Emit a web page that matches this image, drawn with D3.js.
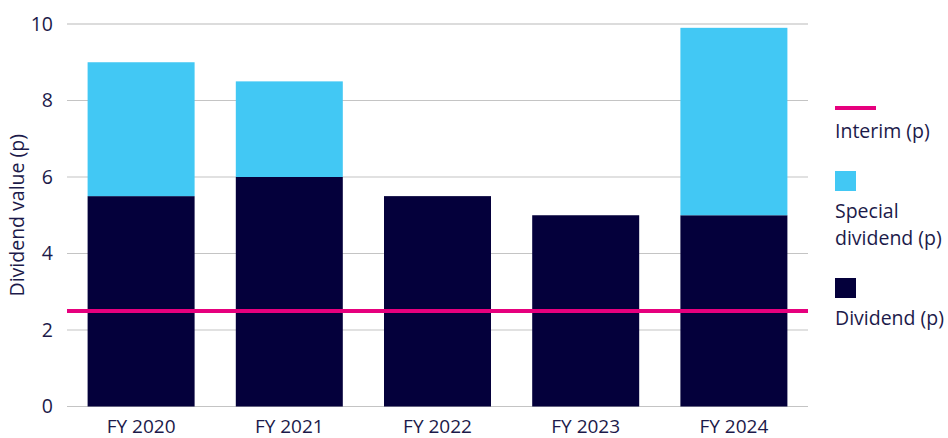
<!DOCTYPE html>
<html>
<head>
<meta charset="utf-8">
<script src="https://cdn.jsdelivr.net/npm/d3@7"></script>
<style>
  body { margin: 0; background: #fff; }
  text { font-family: "Open Sans", Lato, sans-serif; fill: #1c1a4a; }
</style>
</head>
<body>
<div id="chart"></div>
<script>
// Data
const years = ['FY 2020', 'FY 2021', 'FY 2022', 'FY 2023', 'FY 2024'];
const dividend = [5.5, 6.0, 5.5, 5.0, 5.0];
const special = [3.5, 2.5, 0, 0, 4.9];
const interim = 2.5;
const yTicks = [0, 2, 4, 6, 8, 10];

const colors = { dividend: '#04003b', special: '#42c8f4', interim: '#e6007e' };
const fontSize = 19.5;

// Plot area
const margin = { top: 24, right: 140, bottom: 31.5, left: 67 };
const W = 948, H = 438;
const width = W - margin.left - margin.right;
const height = H - margin.top - margin.bottom;

const svg = d3.select('#chart')
    .append('svg')
    .attr('width', W)
    .attr('height', H);

const g = svg.append('g')
    .attr('transform', `translate(${margin.left}, ${margin.top})`);

// Scales
const x = d3.scaleBand()
    .domain(years)
    .range([0, width])
    .paddingInner(0.278)
    .paddingOuter(0.139);
const y = d3.scaleLinear()
    .domain([0, 10])
    .range([height, 0]);

// Gridlines
g.selectAll('.grid')
    .data(yTicks)
    .enter().append('line')
    .attr('x1', 0)
    .attr('x2', width)
    .attr('y1', d => y(d))
    .attr('y2', d => y(d))
    .attr('stroke', d => d === 10 ? '#dcdcdc' : '#c4c4c4')
    .attr('stroke-width', d => d === 10 ? 2 : 1.2);

// Y-axis labels
g.selectAll('.ylab')
    .data(yTicks)
    .enter().append('text')
    .attr('x', -14)
    .attr('y', d => y(d))
    .attr('dy', '0.35em')
    .attr('text-anchor', 'end')
    .attr('font-size', fontSize)
    .text(d => d);

// Stacked bars
const stacked = years.map((yr, i) => ({ yr, div: dividend[i], sp: special[i] }));
g.selectAll('.bar-div')
    .data(stacked)
    .enter().append('rect')
    .attr('x', d => x(d.yr))
    .attr('y', d => y(d.div))
    .attr('width', x.bandwidth())
    .attr('height', d => y(0) - y(d.div))
    .attr('fill', colors.dividend);
g.selectAll('.bar-sp')
    .data(stacked.filter(d => d.sp > 0))
    .enter().append('rect')
    .attr('x', d => x(d.yr))
    .attr('y', d => y(d.div + d.sp))
    .attr('width', x.bandwidth())
    .attr('height', d => y(d.div) - y(d.div + d.sp))
    .attr('fill', colors.special);

// Interim line
g.append('line')
    .attr('x1', 0)
    .attr('x2', width)
    .attr('y1', y(interim))
    .attr('y2', y(interim))
    .attr('stroke', colors.interim)
    .attr('stroke-width', 4);

// X-axis labels (kept just inside the bottom edge)
g.selectAll('.xlab')
    .data(years)
    .enter().append('text')
    .attr('x', d => x(d) + x.bandwidth() / 2)
    .attr('y', height + 26)
    .attr('text-anchor', 'middle')
    .attr('font-size', 19)
    .text(d => d);

// Y-axis title
svg.append('text')
    .attr('transform', `translate(24, ${margin.top + height / 2}) rotate(-90)`)
    .attr('text-anchor', 'middle')
    .attr('font-size', fontSize)
    .text('Dividend value (p)');

// Legend
const lg = svg.append('g').attr('transform', 'translate(835, 0)');
lg.append('line')
    .attr('x1', 0).attr('x2', 41)
    .attr('y1', 108).attr('y2', 108)
    .attr('stroke', colors.interim)
    .attr('stroke-width', 4);
lg.append('text').attr('x', 0).attr('y', 138).attr('font-size', fontSize).text('Interim (p)');
lg.append('rect').attr('x', 0).attr('y', 171).attr('width', 21).attr('height', 20).attr('fill', colors.special);
lg.append('text').attr('x', 0).attr('y', 218).attr('font-size', fontSize).text('Special');
lg.append('text').attr('x', 0).attr('y', 245).attr('font-size', fontSize).text('dividend (p)');
lg.append('rect').attr('x', 0).attr('y', 278).attr('width', 21).attr('height', 20).attr('fill', colors.dividend);
lg.append('text').attr('x', 0).attr('y', 325).attr('font-size', fontSize).text('Dividend (p)');
</script>
</body>
</html>
